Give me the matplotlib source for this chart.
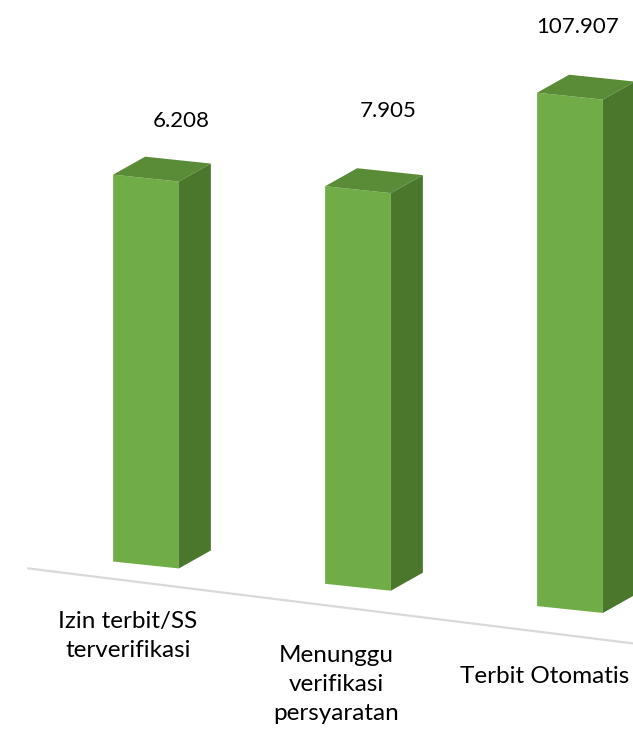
import numpy as np
import matplotlib
matplotlib.use("Agg")
import matplotlib.pyplot as plt
from matplotlib.transforms import Affine2D
from matplotlib.patches import Polygon

categories = ["Izin terbit/SS\nterverifikasi", "Menunggu\nverifikasi\npersyaratan", "Terbit Otomatis"]
values = [6208, 7905, 107907]
value_labels = ["6.208", "7.905", "107.907"]

plt.rcParams['font.family'] = ['Lato', 'DejaVu Sans']

W, H, DPI = 633, 729, 100
fig = plt.figure(figsize=(W / DPI, H / DPI), dpi=DPI)
ax = fig.add_axes([0, 0, 1, 1])
ax.set_yscale('log')
ax.axis('off')

px_per_cat = 212.0
x0_px = 146.0
base_px = 164.0
px_per_dec = 102.0
ax.set_xlim(-x0_px / px_per_cat, (W - x0_px) / px_per_cat)
ax.set_ylim(10 ** (-base_px / px_per_dec), 10 ** ((H - base_px) / px_per_dec))

bar_slope = 0.105
floor_slope = 0.124
shear = Affine2D().translate(-x0_px, 0).skew(0, np.arctan(-bar_slope)).translate(x0_px, 0)
trans = ax.transData + shear
floor_shear = Affine2D().translate(-x0_px, 0).skew(0, np.arctan(-floor_slope)).translate(x0_px, 0)
ftrans = ax.transData + floor_shear

front_c = '#70AD47'
top_c = '#5A8C38'
side_c = '#4A772C'
width = 0.31
depth = np.array([32.0, 18.0])

x = np.arange(len(values))

# floor line
ax.plot([-0.56, 2.3], [10 ** (-18 / px_per_dec)] * 2, color='#D9D9D9', lw=1.6,
        transform=ftrans, solid_capstyle='butt', zorder=1)

bars = ax.bar(x, np.array(values) - 1, bottom=1, width=width, color=front_c,
              transform=trans, zorder=3, linewidth=0)

for xi, v in zip(x, values):
    fl, fr = xi - width / 2, xi + width / 2
    p = trans.transform([(fl, v), (fr, v), (fr, 1)])
    tl, tr, br = p
    top = Polygon([tl, tr, tr + depth, tl + depth], closed=True, facecolor=top_c,
                  edgecolor='none', transform=None, zorder=2)
    side = Polygon([tr, br, br + depth, tr + depth], closed=True, facecolor=side_c,
                   edgecolor='none', transform=None, zorder=2)
    fig.add_artist(top)
    fig.add_artist(side)

val_offsets = [(35, 57), (30, 79), (8, 69)]
for xi, v, lab, off in zip(x, values, value_labels, val_offsets):
    ax.annotate(lab, xy=(xi, v), xycoords=trans, xytext=off, textcoords='offset pixels',
                ha='center', va='center', fontsize=16, color='#000000')

cat_offsets = [(-18, -46), (-22, -58), (-25, -56)]
for xi, cat, off in zip(x, categories, cat_offsets):
    ax.annotate(cat, xy=(xi, 1), xycoords=trans, xytext=off, textcoords='offset pixels',
                ha='center', va='top', fontsize=17.5, color='#000000', linespacing=1.45,
                multialignment='center')

fig.savefig('out.png', dpi=DPI)
